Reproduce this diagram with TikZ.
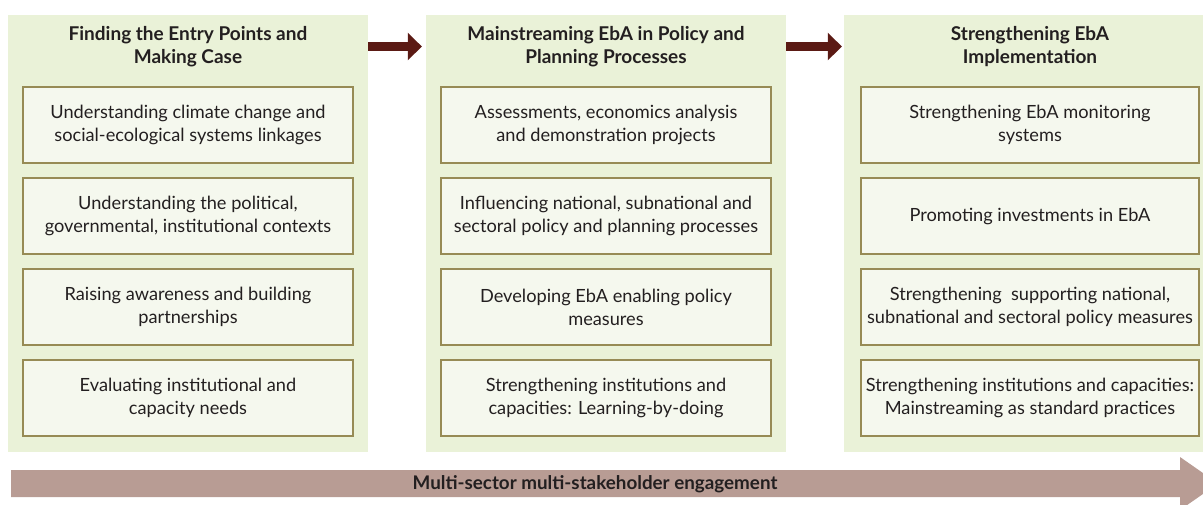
\documentclass[tikz,border=0pt]{standalone}
\usepackage{fontspec}
\setmainfont{Lato}
\usetikzlibrary{arrows.meta,calc}
\definecolor{panelbg}{HTML}{EAF2D8}
\definecolor{boxbg}{HTML}{F5F8EE}
\definecolor{boxline}{HTML}{978B55}
\definecolor{darkarrow}{HTML}{5B1A14}
\definecolor{bigarrow}{HTML}{B89C94}
\definecolor{txt}{HTML}{231F20}
\begin{document}
\begin{tikzpicture}[x=1pt,y=-1pt,
  panel/.style={fill=panelbg, draw=none, minimum width=360pt, minimum height=437pt, inner sep=0pt},
  inbox/.style={fill=boxbg, draw=boxline, line width=1.5pt, minimum width=330pt, minimum height=76pt, inner sep=0pt, align=center, text=txt, font=\fontsize{18.2}{23}\selectfont},
  ttl/.style={align=center, text=txt, font=\fontsize{19}{23}\selectfont\bfseries},
  darrow/.style={draw=darkarrow, line width=9pt, -{Triangle[length=14pt,width=27pt]}, shorten >=4pt}
  ]
\useasboundingbox (0,0) rectangle (1203,504);
\begin{scope}
\clip (0,0) rectangle (1203,504);
% panels
\node[panel] (p1) at (188,233.5) {};
\node[panel] (p2) at (606,233.5) {};
\node[panel] (p3) at (1024,233.5) {};
% titles
\node[ttl] (t1) at (188,46.5) {Finding the Entry Points and\\Making Case};
\node[ttl] (t2) at (606,46.5) {Mainstreaming EbA in Policy and\\Planning Processes};
\node[ttl] (t3) at (1030,46.5) {Strengthening EbA\\Implementation};
% panel 1 boxes
\node[inbox] (a1) at (188,125) {Understanding climate change and\\social-ecological systems linkages};
\node[inbox] (a2) at (188,216) {Understanding the political,\\governmental, institutional contexts};
\node[inbox] (a3) at (188,307) {Raising awareness and building\\partnerships};
\node[inbox] (a4) at (188,398) {Evaluating institutional and\\capacity needs};
% panel 2 boxes
\node[inbox] (b1) at (606,125) {Assessments, economics analysis\\and demonstration projects};
\node[inbox] (b2) at (606,216) {Influencing national, subnational and\\sectoral policy and planning processes};
\node[inbox] (b3) at (606,307) {Developing EbA enabling policy\\measures};
\node[inbox] (b4) at (606,398) {Strengthening institutions and\\capacities: Learning-by-doing};
% panel 3 boxes
\node[inbox, minimum width=338pt] (c1) at (1030,125) {Strengthening EbA monitoring\\systems};
\node[inbox, minimum width=338pt] (c2) at (1030,216) {Promoting investments in EbA};
\node[inbox, minimum width=338pt] (c3) at (1030,307) {Strengthening\ \ supporting national,\\subnational and sectoral policy measures};
\node[inbox, minimum width=338pt] (c4) at (1030,398) {Strengthening institutions and capacities:\\Mainstreaming as standard practices};
% connectors
\draw[darrow] (p1.east |- t1) -- (p2.west |- t1);
\draw[darrow] (p2.east |- t1) -- ([xshift=2pt]p3.west |- t1);
% bottom arrow
\fill[bigarrow] (11,470) -- (1180,470) -- (1180,457) -- (1218,483.5) -- (1180,510) -- (1180,497) -- (11,497) -- cycle;
\node[text=txt, font=\fontsize{18.8}{22}\selectfont\bfseries] (eng) at (595,484) {Multi-sector multi-stakeholder engagement};
\end{scope}
\end{tikzpicture}
\end{document}
